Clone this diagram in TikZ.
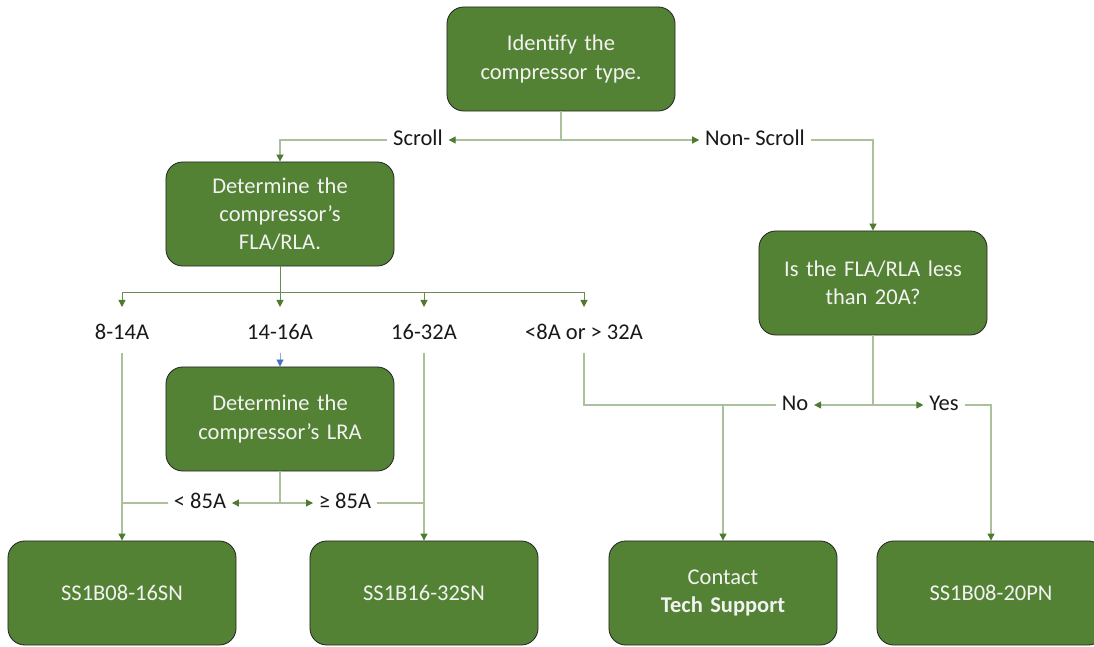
\documentclass[tikz,border=0pt]{standalone}
\usepackage{fontspec}
\setmainfont{Carlito}
\usetikzlibrary{arrows.meta}
\definecolor{boxgreen}{HTML}{548235}
\definecolor{linegreen}{HTML}{ABC09C}
\definecolor{forkgreen}{HTML}{6A8C52}
\definecolor{tipgreen}{HTML}{4E7B2F}
\definecolor{tipblue}{HTML}{4472C4}
\tikzset{
	box/.style={draw=black!85, line width=0.6pt, fill=boxgreen, rounded corners=0.42cm, minimum width=5.7cm, minimum height=2.6cm, text width=5.2cm, align=center, text=white!95!black, font=\fontsize{16}{20}\selectfont},
	lbl/.style={inner xsep=4pt, inner ysep=6pt, text height=11pt, text depth=3pt, font=\fontsize{16}{20}\selectfont, text=black!90},
	link/.style={draw=linegreen, line width=0.8pt},
	fork/.style={draw=forkgreen, line width=0.7pt},
	arr/.style={link, -{Triangle[length=5pt, width=5pt, color=tipgreen]}},
	forkarr/.style={fork, -{Triangle[length=5pt, width=5pt, color=tipgreen]}, shorten >=6pt},
	arrblue/.style={draw=tipblue!60, line width=0.6pt, -{Triangle[length=5pt, width=5pt, color=tipblue]}}
}
\begin{document}
\begin{tikzpicture}[x=0.025cm, y=-0.025cm]
		\useasboundingbox (0, 0) rectangle (1094, 646);
		% boxes
		\node[box] (type) at (561, 59) {Identify the\\compressor type.};
		\node[box] (fla) at (280, 214) {Determine the\\compressor’s\\FLA/RLA.};
		\node[box] (less20) at (873, 283) {Is the FLA/RLA less\\than 20A?};
		\node[box] (lra) at (280, 419) {Determine the\\compressor’s LRA};
		\node[box] (b1) at (122, 593) {SS1B08-16SN};
		\node[box] (b2) at (424, 593) {SS1B16-32SN};
		\node[box] (b3) at (723, 593) {Contact\\\textbf{Tech Support}};
		\node[box] (b4) at (991, 593) {SS1B08-20PN};
		% labels
		\node[lbl] (scroll) at (418, 140) {Scroll};
		\node[lbl] (nonscroll) at (755, 140) {Non- Scroll};
		\node[lbl] (l814) at (122, 334) {8-14A};
		\node[lbl] (l1416) at (280, 334) {14-16A};
		\node[lbl] (l1632) at (424, 334) {16-32A};
		\node[lbl] (lout) at (584, 334) {<8A or > 32A};
		\node[lbl] (lt85) at (200, 503) {< 85A};
		\node[lbl] (ge85) at (345, 503) {≥ 85A};
		\node[lbl] (no) at (795, 405) {No};
		\node[lbl] (yes) at (944, 405) {Yes};
		% forks
		\coordinate (f1) at (561, 140);
		\coordinate (f2) at (280, 292);
		\coordinate (f3) at (280, 503);
		\coordinate (f4) at (873, 405);
		% top
		\draw[link] (type.south) -- (f1);
		\draw[arr] (f1) -- (scroll.east);
		\draw[arr] (f1) -- (nonscroll.west);
		\draw[arr] (scroll.west) -| (fla.north);
		\draw[arr] (nonscroll.east) -| (less20.north);
		% FLA/RLA
		\draw[fork] (fla.south) -- (f2);
		\draw[fork] (l814.north|-f2) -- (lout.north|-f2);
		\draw[forkarr] (l814.north|-f2) -- (l814.north);
		\draw[forkarr] (f2) -- (l1416.north);
		\draw[forkarr] (l1632.north|-f2) -- (l1632.north);
		\draw[forkarr] (lout.north|-f2) -- (lout.north);
		\draw[arrblue] (l1416.south) -- (lra.north);
		% LRA
		\draw[link] (lra.south) -- (f3);
		\draw[arr] (f3) -- (lt85.east);
		\draw[arr] (f3) -- (ge85.west);
		\draw[arr] (l814.south) -- (b1.north);
		\draw[link] (lt85.west) -- (l814.south|-lt85.west);
		\draw[arr] (l1632.south) -- (b2.north);
		\draw[link] (ge85.east) -- (l1632.south|-ge85.east);
		% less than 20A
		\draw[link] (less20.south) -- (f4);
		\draw[arr] (f4) -- (no.east);
		\draw[arr] (f4) -- (yes.west);
		\draw[link] (lout.south) |- (no.west);
		\draw[arr] (b3.north|-no.west) -- (b3.north);
		\draw[arr] (yes.east) -| (b4.north);
\end{tikzpicture}
\end{document}
